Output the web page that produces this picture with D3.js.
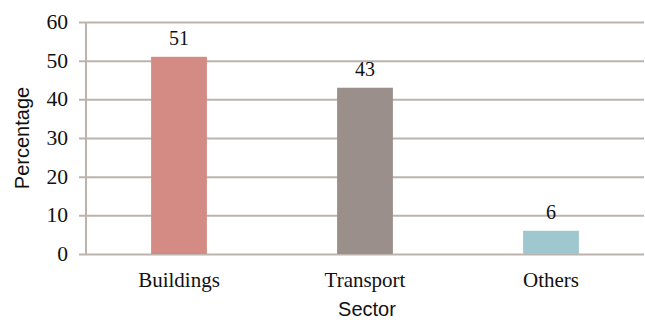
<!DOCTYPE html>
<html>
<head>
<meta charset="utf-8">
<script src="https://cdn.jsdelivr.net/npm/d3@7"></script>
<style>
  html, body { margin: 0; padding: 0; background: #fff; }
  svg { display: block; }
</style>
</head>
<body>
<svg id="chart" width="645" height="320"></svg>
<script>
const categories = ["Buildings", "Transport", "Others"];
const values = [51, 43, 6];
const barColors = ["#d38b84", "#9a8f8a", "#9fc7d0"];
const yTicks = [0, 10, 20, 30, 40, 50, 60];
const yTitle = "Percentage";
const xTitle = "Sector";

const svg = d3.select("#chart");
const margin = { left: 86, right: 1, top: 22, bottom: 66 };
const W = 645, H = 320;

const x = d3.scaleBand().domain(categories).range([margin.left, W - margin.right]).padding(0);
const y = d3.scaleLinear().domain([0, 60]).range([H - margin.bottom, margin.top]);
const gridColor = "#bdb3ad";
const serif = "'Liberation Serif', 'Times New Roman', serif";
const sans = "'Liberation Sans', Arial, sans-serif";

// gridlines + ticks
const yAxis = d3.axisLeft(y).tickValues(yTicks).tickSize(-(W - margin.right - margin.left)).tickFormat(d3.format("d")).tickPadding(18);
const gy = svg.append("g").attr("transform", `translate(${margin.left},0)`).call(yAxis);
gy.select(".domain").remove();
gy.selectAll(".tick line").attr("stroke", gridColor).attr("stroke-width", 2).attr("x2", W - margin.right - margin.left).attr("x1", -7);
gy.selectAll(".tick text").attr("font-family", serif).attr("font-size", 20).attr("fill", "#111")
  .attr("x", -18).attr("transform", "scale(1.08,1)").attr("transform-origin", "-18 0");

// y axis line
svg.append("line").attr("x1", margin.left).attr("x2", margin.left)
  .attr("y1", y(60)).attr("y2", y(0)).attr("stroke", gridColor).attr("stroke-width", 2);

// bars
const bw = x.bandwidth() * 0.3;
svg.selectAll("rect.bar").data(categories).join("rect")
  .attr("class", "bar")
  .attr("x", d => x(d) + x.bandwidth() / 2 - bw / 2)
  .attr("width", bw)
  .attr("y", (d, i) => y(values[i]))
  .attr("height", (d, i) => y(0) - y(values[i]))
  .attr("fill", (d, i) => barColors[i]);

// value labels
svg.selectAll("text.val").data(categories).join("text")
  .attr("class", "val")
  .attr("x", d => x(d) + x.bandwidth() / 2)
  .attr("y", (d, i) => y(values[i]) - 12)
  .attr("text-anchor", "middle")
  .attr("font-family", serif).attr("font-size", 20).attr("fill", "#111")
  .text((d, i) => values[i]);

// category labels
svg.selectAll("text.cat").data(categories).join("text")
  .attr("class", "cat")
  .attr("x", d => x(d) + x.bandwidth() / 2)
  .attr("y", 287)
  .attr("text-anchor", "middle")
  .attr("font-family", serif).attr("font-size", 21).attr("fill", "#111")
  .text(d => d);

// axis titles
svg.append("text").attr("x", (margin.left + W - margin.right) / 2 + 2).attr("y", 316)
  .attr("text-anchor", "middle").attr("font-family", sans).attr("font-size", 20).attr("fill", "#111")
  .text(xTitle);
svg.append("text").attr("transform", "translate(29,138) rotate(-90)")
  .attr("text-anchor", "middle").attr("font-family", sans).attr("font-size", 20).attr("fill", "#111")
  .text(yTitle);
</script>
</body>
</html>
